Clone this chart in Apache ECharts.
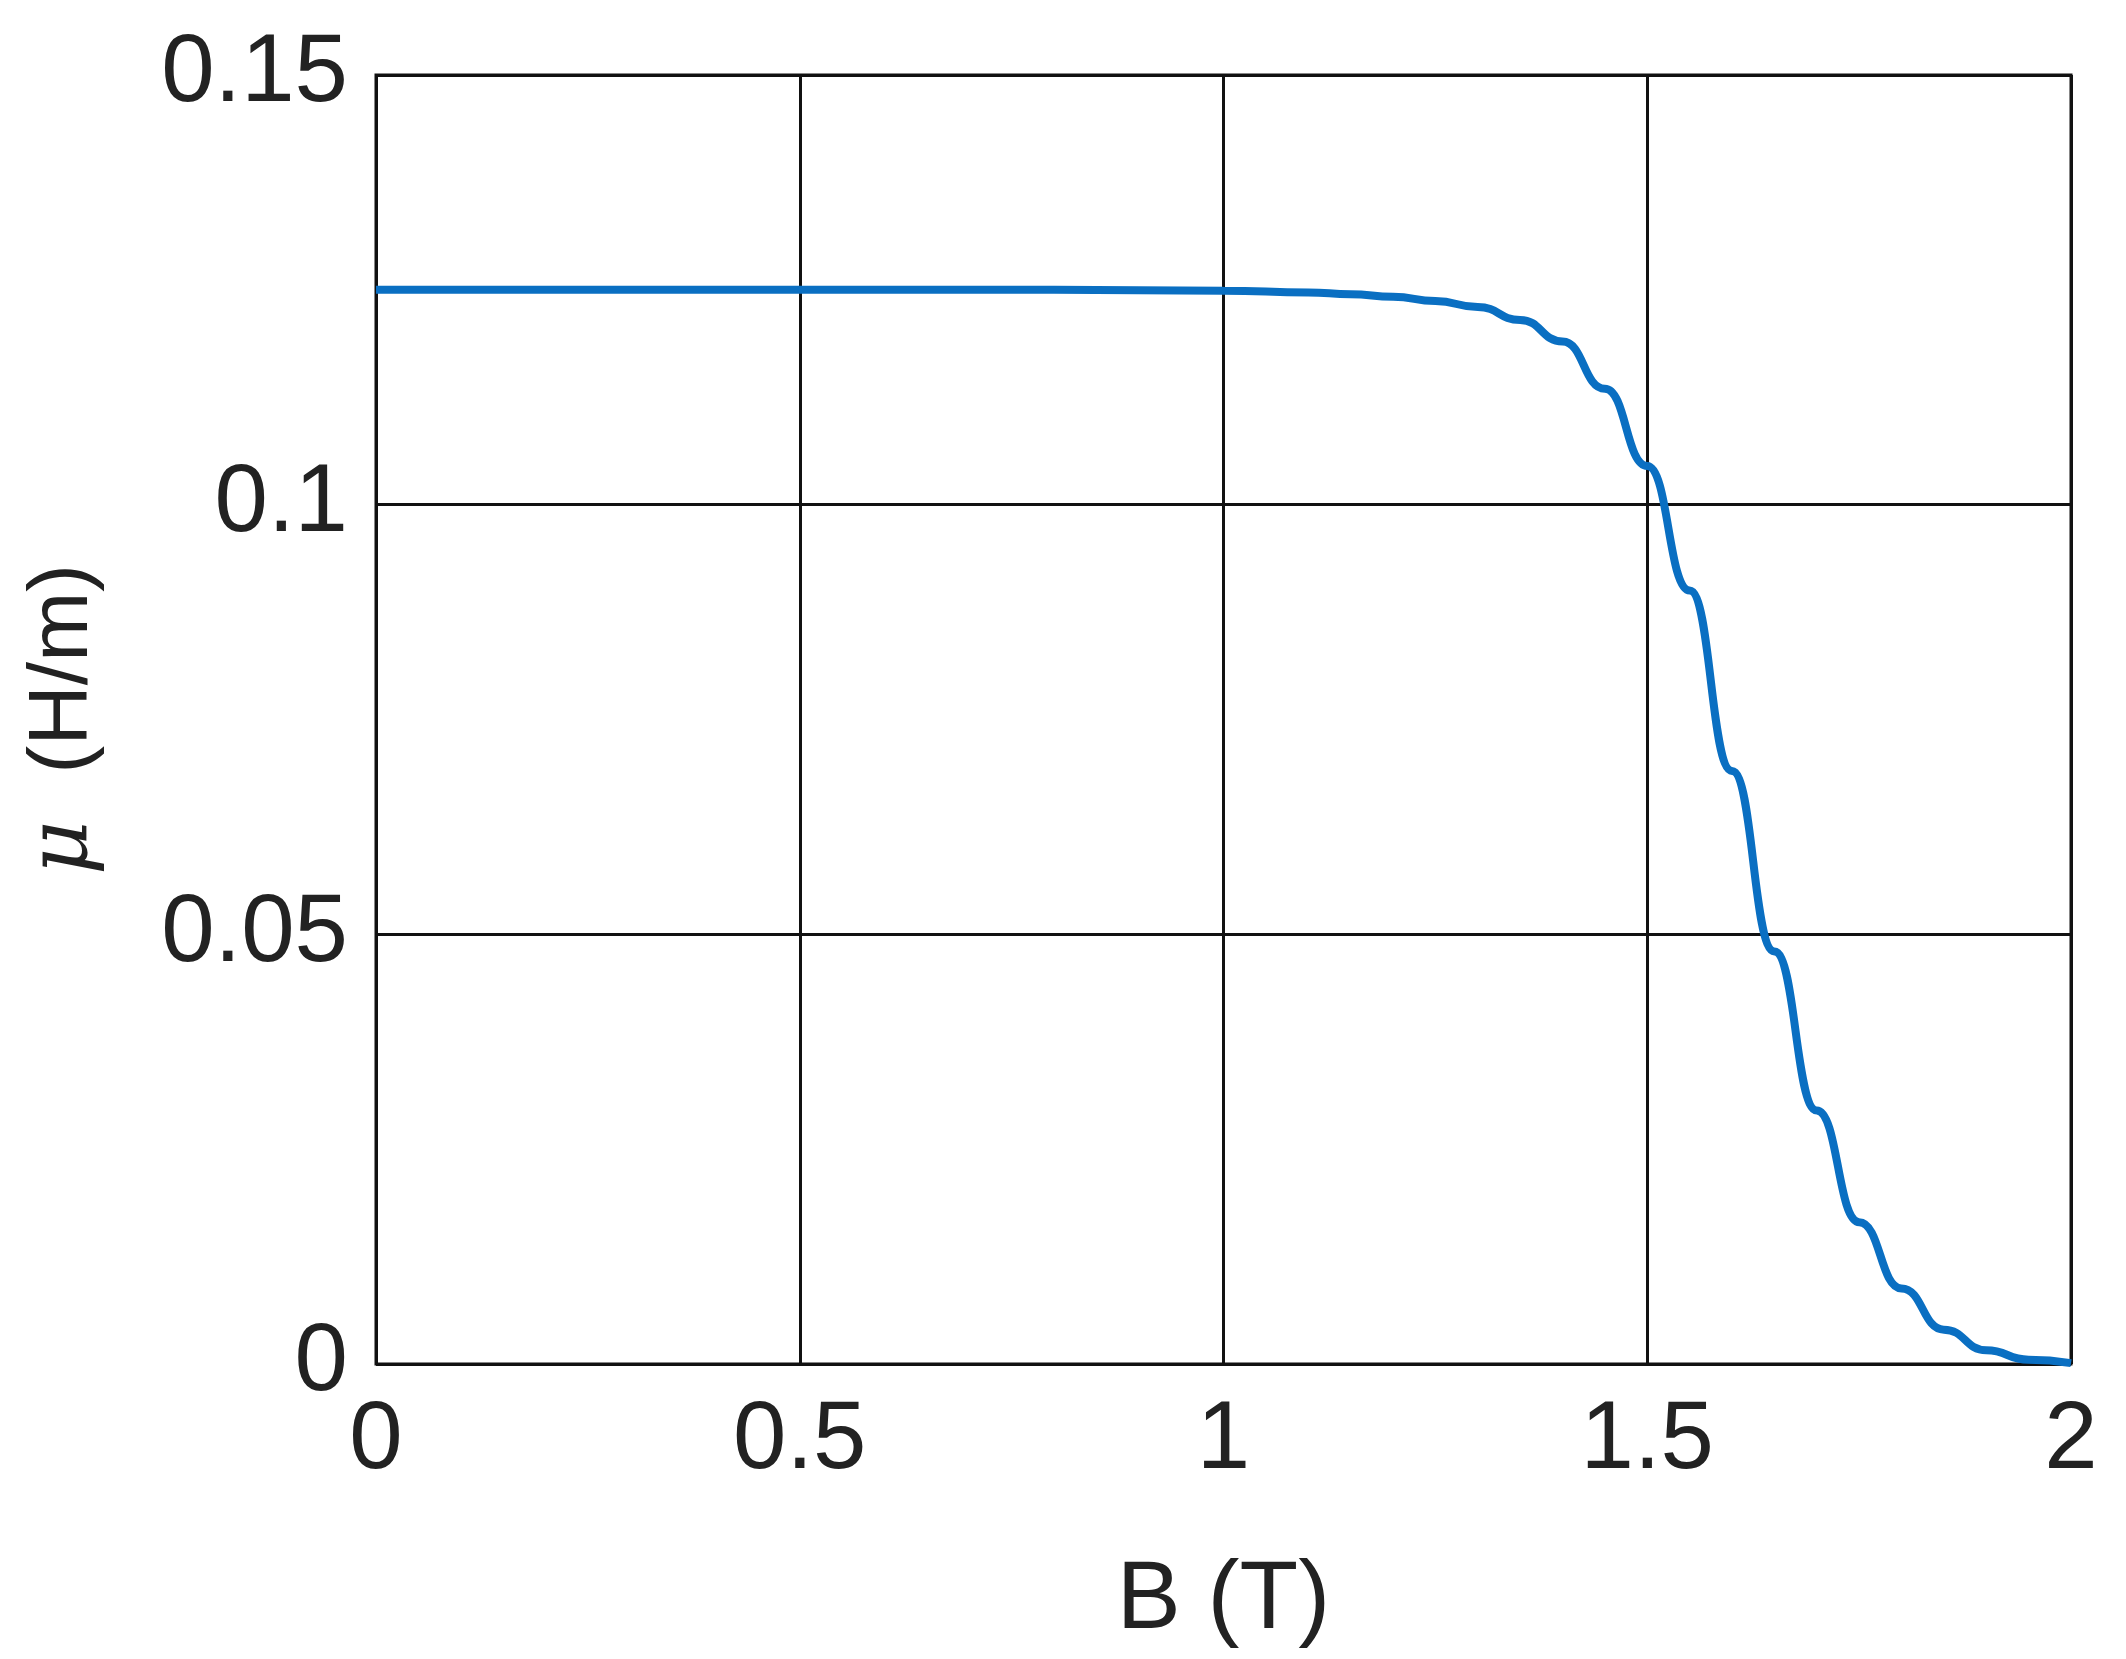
<!DOCTYPE html>
<html>
<head>
<meta charset="utf-8">
<script src="https://cdn.jsdelivr.net/npm/echarts@6/dist/echarts.min.js"></script>
<style>
  html, body { margin: 0; padding: 0; background: #fff; }
  #chart { width: 2126px; height: 1659px; }
</style>
</head>
<body>
<div id="chart"></div>
<script>
// B (T) and mu (H/m)
var bValues = [0, 0.2, 0.4, 0.6, 0.8, 1.0, 1.1, 1.15, 1.2, 1.25, 1.3, 1.35, 1.4, 1.45, 1.5, 1.55, 1.6, 1.65, 1.7, 1.75, 1.8, 1.85, 1.9, 1.95, 2.0];
var muValues = [0.125, 0.125, 0.125, 0.125, 0.125, 0.1249, 0.1247, 0.1245, 0.1242, 0.1237, 0.1230, 0.1215, 0.1190, 0.1135, 0.1045, 0.090, 0.069, 0.048, 0.0295, 0.0165, 0.0088, 0.0040, 0.0016, 0.0005, 0.0001];
var xTicks = [0, 0.5, 1, 1.5, 2];
var yTicks = [0, 0.05, 0.1, 0.15];

var points = bValues.map(function (b, i) { return [b, muValues[i]]; });

var chart = echarts.init(document.getElementById('chart'));
var font = 'Liberation Sans';
chart.setOption({
    animation: false,
    grid: {
        left: 376,
        right: 55,
        top: 75,
        bottom: 295,
        show: true,
        borderColor: '#111',
        borderWidth: 3
    },
    xAxis: {
        type: 'value',
        min: 0,
        max: 2,
        interval: 0.5,
        name: 'B (T)',
        nameLocation: 'middle',
        nameGap: 190,
        nameTextStyle: { fontFamily: font, fontSize: 96, color: '#222' },
        axisLine: { show: false },
        axisTick: { show: false },
        axisLabel: {
            margin: 30,
            fontFamily: font,
            fontSize: 96,
            color: '#222',
            formatter: function (v) { return xTicks.indexOf(v) >= 0 ? String(v) : ''; }
        },
        splitLine: { lineStyle: { color: '#111', width: 3 } }
    },
    yAxis: {
        type: 'value',
        min: 0,
        max: 0.15,
        interval: 0.05,
        name: '{i|μ}  (H/m)',
        nameLocation: 'middle',
        nameGap: 270,
        nameRotate: 90,
        nameTextStyle: {
            fontFamily: font, fontSize: 84, color: '#222',
            rich: { i: { fontFamily: 'DejaVu Serif', fontStyle: 'italic', fontSize: 84, color: '#222' } }
        },
        axisLine: { show: false },
        axisTick: { show: false },
        axisLabel: {
            margin: 28,
            fontFamily: font,
            fontSize: 96,
            color: '#222',
            formatter: function (v) {
                var r = Math.round(v * 100) / 100;
                return yTicks.indexOf(r) >= 0 ? String(r) : '';
            }
        },
        splitLine: { lineStyle: { color: '#111', width: 3 } }
    },
    series: [{
        type: 'line',
        data: points,
        smooth: 0.5,
        smoothMonotone: 'x',
        showSymbol: false,
        lineStyle: { color: '#0a6fc2', width: 8 },
        z: 5
    }]
});
</script>
</body>
</html>
